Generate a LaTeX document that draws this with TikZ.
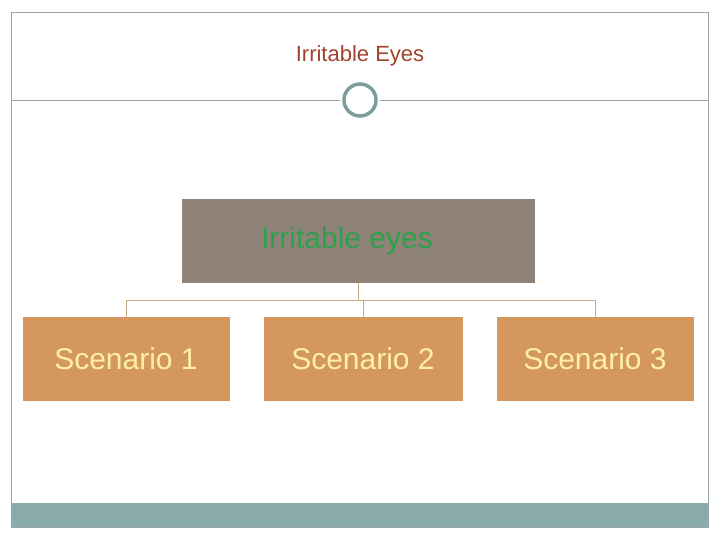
\documentclass[tikz,border=0pt]{standalone}
\usepackage{fontspec}
\setmainfont{Liberation Sans}
\begin{document}
\begin{tikzpicture}[x=1pt,y=-1pt,
  box/.style={draw=none,inner sep=0pt,anchor=north west},
  scen/.style={box,fill=scfill,text=sctext,font=\fontsize{30}{30}\selectfont},
  conn/.style={draw=conncol,line width=0.8pt}]
\definecolor{frame}{HTML}{9AA8A8}
\definecolor{teal}{HTML}{7F9C9C}
\definecolor{bar}{HTML}{8AABAB}
\definecolor{titlec}{HTML}{A0432C}
\definecolor{topfill}{HTML}{8F8278}
\definecolor{topt}{HTML}{2EA04A}
\definecolor{scfill}{HTML}{D4985F}
\definecolor{sctext}{HTML}{FFF0A0}
\definecolor{conncol}{HTML}{C8AA85}
\useasboundingbox (0,0) rectangle (720,540);
\fill[white] (0,0) rectangle (720,540);
\fill[bar] (11,503) rectangle (708,527);
\draw[frame,line width=0.8pt] (11,12) rectangle (708,527);
\draw[frame,line width=0.8pt] (11,100) -- (340,100);
\draw[frame,line width=0.8pt] (380,100) -- (708,100);
\node[draw=teal,fill=white,line width=3.5pt,circle,minimum size=32pt,inner sep=0pt] (c) at (360,100) {};
\node[text=titlec,font=\fontsize{22}{22}\selectfont] (t) at (360,56) {Irritable Eyes};
\node[box,fill=topfill,minimum width=353pt,minimum height=84pt] (top) at (182,199) {};
\node[text=topt,font=\fontsize{30}{30}\selectfont] (toplab) at (347,241) {Irritable eyes};
\node[scen,minimum width=207pt,minimum height=84pt] (s1) at (23,317) {};
\node[scen,minimum width=199pt,minimum height=84pt] (s2) at (264,317) {};
\node[scen,minimum width=197pt,minimum height=84pt] (s3) at (497,317) {};
\node[text=sctext,font=\fontsize{30}{30}\selectfont] (l1) at (126,359) {Scenario 1};
\node[text=sctext,font=\fontsize{30}{30}\selectfont] (l2) at (363,359) {Scenario 2};
\node[text=sctext,font=\fontsize{30}{30}\selectfont] (l3) at (595,359) {Scenario 3};
\coordinate (j) at (358,300);
\draw[conn] (top.south -| j) -- (j);
\draw[conn] (126,300) -- (595,300);
\draw[conn] (126,300) -- (s1.north -| l1);
\draw[conn] (363,300) -- (s2.north -| l2);
\draw[conn] (595,300) -- (s3.north -| l3);
\end{tikzpicture}
\end{document}
